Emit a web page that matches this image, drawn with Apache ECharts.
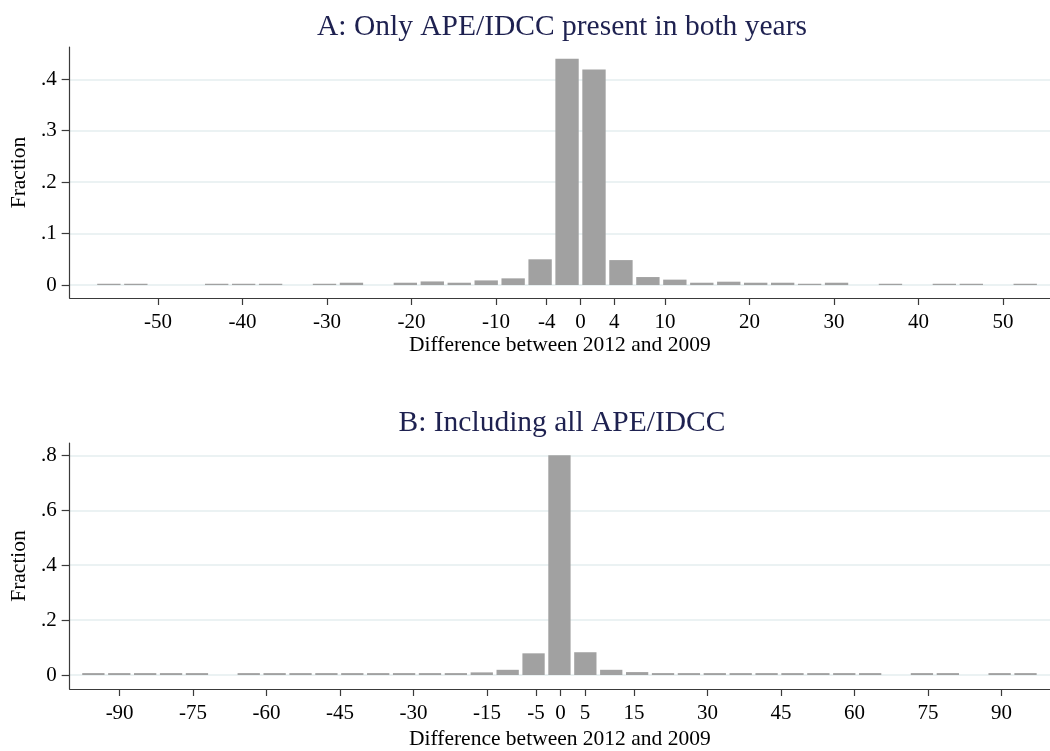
<!DOCTYPE html>
<html>
<head>
<meta charset="utf-8">
<script src="https://cdn.jsdelivr.net/npm/echarts@6/dist/echarts.min.js"></script>
<style>
  html, body { margin: 0; padding: 0; background: #ffffff; }
  #chart { width: 1050px; height: 751px; }
</style>
</head>
<body>
<div id="chart"></div>
<script>
// Panel A: only APE/IDCC present in both years (histogram, fraction per bin)
const titleA = 'A: Only APE/IDCC present in both years';
const binStartA = -57.42;
const binWidthA = 3.19;
const fractionA = [
  0.0025, 0.0025, 0, 0, 0.0025, 0.0025, 0.0025, 0, 0.0025, 0.0045,
  0, 0.0045, 0.007, 0.0045, 0.009, 0.013, 0.050, 0.440, 0.419, 0.0485,
  0.0155, 0.0105, 0.0045, 0.0065, 0.0045, 0.0045, 0.0025, 0.0045, 0, 0.0025,
  0, 0.0025, 0.0025, 0, 0.0025
];
const xTicksA = [-50, -40, -30, -20, -10, -4, 0, 4, 10, 20, 30, 40, 50];
const yTicksA = [0, 0.1, 0.2, 0.3, 0.4];

// Panel B: including all APE/IDCC
const titleB = 'B: Including all APE/IDCC';
const binStartB = -98;
const binWidthB = 5.285;
const fractionB = [
  0.007, 0.007, 0.007, 0.007, 0.007, 0, 0.007, 0.007, 0.007, 0.007,
  0.007, 0.007, 0.007, 0.007, 0.007, 0.0096, 0.019, 0.079, 0.800, 0.083,
  0.019, 0.0107, 0.007, 0.007, 0.007, 0.007, 0.007, 0.007, 0.007, 0.007,
  0.007, 0, 0.007, 0.007, 0, 0.007, 0.007
];
const xTicksB = [-90, -75, -60, -45, -30, -15, -5, 0, 5, 15, 30, 45, 60, 75, 90];
const yTicksB = [0, 0.2, 0.4, 0.6, 0.8];

const xTitle = 'Difference between 2012 and 2009';
const yTitle = 'Fraction';

const SERIF = '"Liberation Serif", "Times New Roman", serif';
const BAR = '#a1a1a1';
const AXIS = '#3a3a3a';
const GRID = '#e4eeef';

function binData(start, width, values) {
  return values.map((v, i) => [start + i * width, start + (i + 1) * width, v]);
}

function renderBin(params, api) {
  const v = api.value(2);
  if (!v) return null;
  const p0 = api.coord([api.value(0), 0]);
  const p1 = api.coord([api.value(1), v]);
  const gap = 1.8;
  return {
    type: 'rect',
    shape: { x: p0[0] + gap, y: p1[1], width: p1[0] - p0[0] - 2 * gap, height: p0[1] - p1[1] },
    style: { fill: BAR }
  };
}

function fracLabel(v) {
  return v === 0 ? '0' : String(v).replace(/^0/, '');
}

function xAxisCfg(gridIndex, min, max, ticks, labelMargin, nameGap) {
  return {
    gridIndex, type: 'value', min, max,
    axisLine: { show: true, onZero: false, lineStyle: { color: AXIS, width: 1.2 } },
    axisTick: { show: true, length: 7, customValues: ticks, lineStyle: { color: AXIS, width: 1.2 } },
    axisLabel: { customValues: ticks, margin: labelMargin, fontSize: 21, fontFamily: SERIF, color: '#000' },
    splitLine: { show: false },
    name: xTitle, nameLocation: 'middle', nameGap,
    nameTextStyle: { fontSize: 21.5, fontFamily: SERIF, color: '#000' }
  };
}

function yAxisCfg(gridIndex, min, max, ticks) {
  return {
    gridIndex, type: 'value', min, max,
    axisLine: { show: true, onZero: false, lineStyle: { color: AXIS, width: 1.2 } },
    axisTick: { show: true, length: 8, customValues: ticks, lineStyle: { color: AXIS, width: 1.2 } },
    axisLabel: { customValues: ticks, margin: 13, fontSize: 21, fontFamily: SERIF, color: '#000', formatter: fracLabel },
    splitLine: { show: true, lineStyle: { color: GRID, width: 1.5 } },
    name: yTitle, nameLocation: 'middle', nameGap: 38,
    nameTextStyle: { fontSize: 21.5, fontFamily: SERIF, color: '#000' }
  };
}

const chart = echarts.init(document.getElementById('chart'), null, { renderer: 'canvas' });
chart.setOption({
  backgroundColor: '#ffffff',
  animation: false,
  grid: [
    { left: 69, right: -13, top: 47, bottom: 453 },
    { left: 69, right: -13, top: 443, bottom: 56 }
  ],
  xAxis: [
    xAxisCfg(0, -60.47, 55.57, xTicksA, 14, 36),
    xAxisCfg(1, -100.2, 99.9, xTicksB, 14, 39)
  ],
  yAxis: [
    yAxisCfg(0, -0.0252, 0.4627, yTicksA),
    yAxisCfg(1, -0.0509, 0.845, yTicksB)
  ],
  graphic: [
    {
      type: 'text', x: 562, y: 27,
      style: { text: titleA, font: '29.5px ' + SERIF, fill: '#1e2150',
               textAlign: 'center', textVerticalAlign: 'middle' }
    },
    {
      type: 'text', x: 562, y: 423,
      style: { text: titleB, font: '29.5px ' + SERIF, fill: '#1e2150',
               textAlign: 'center', textVerticalAlign: 'middle' }
    }
  ],
  series: [
    {
      type: 'custom', xAxisIndex: 0, yAxisIndex: 0,
      data: binData(binStartA, binWidthA, fractionA),
      encode: { x: [0, 1], y: 2 },
      renderItem: renderBin
    },
    {
      type: 'custom', xAxisIndex: 1, yAxisIndex: 1,
      data: binData(binStartB, binWidthB, fractionB),
      encode: { x: [0, 1], y: 2 },
      renderItem: renderBin
    }
  ]
});
</script>
</body>
</html>
